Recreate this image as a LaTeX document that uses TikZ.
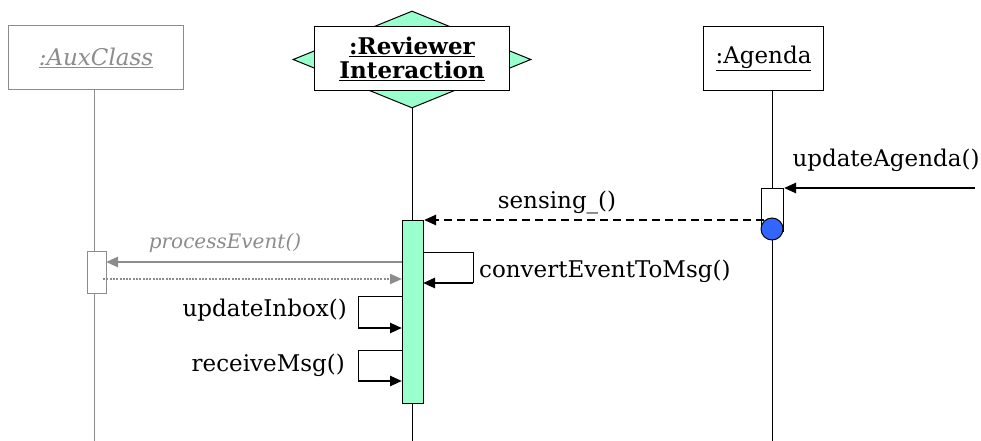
\documentclass[tikz,border=0pt]{standalone}
\usepackage{fontspec}
\setmainfont{DejaVu Serif}
\usetikzlibrary{arrows.meta,shapes.geometric}
\definecolor{mint}{HTML}{99FFCC}
\definecolor{ballblue}{HTML}{3366FF}
\definecolor{auxgray}{HTML}{8C8C8C}
\tikzset{
  lbl/.style={font=\fontsize{23}{26}\selectfont, inner sep=0pt},
  objbox/.style={draw, fill=white, line width=1pt, minimum width=#1, minimum height=64pt, inner sep=0pt},
  lifeline/.style={line width=1pt},
  act/.style={draw, line width=1pt, inner sep=0pt, anchor=north west},
  tip/.style={-{Triangle[length=12pt,width=10pt]}},
  msg/.style={line width=2.5pt, tip},
  selfin/.style={line width=1pt},
}
\begin{document}
\begin{tikzpicture}[x=1pt,y=-1pt]
\useasboundingbox (0,0) rectangle (981,441);
% ---- AuxClass
\node[objbox=175pt, draw=auxgray, anchor=north west, font=\fontsize{23}{26}\selectfont\itshape, text=auxgray] (aux) at (8,25) {\underline{:AuxClass}};
\coordinate (auxend) at (94,441);
\draw[lifeline, draw=auxgray] (auxend |- aux.south) -- (auxend);
\node[act, draw=auxgray, fill=white, minimum width=19pt, minimum height=42pt] (auxact) at (87,251) {};
% ---- Reviewer Interaction
\node[diamond, aspect=2.45, fill=mint, draw, line width=1pt, minimum width=238pt, minimum height=97pt, inner sep=0pt] (dia) at (412,59.5) {};
\node[objbox=195pt, anchor=north west, font=\fontsize{23}{26}\selectfont\bfseries, align=center] (rev) at (314,26) {\underline{:Reviewer}\\[-2pt]\underline{Interaction}};
\coordinate (revend) at (412,441);
\draw[lifeline] (dia.south) -- (revend);
\node[act, fill=mint, minimum width=21pt, minimum height=183pt] (revact) at (402,220) {};
% ---- Agenda
\node[objbox=120pt, anchor=north west, font=\fontsize{23}{26}\selectfont] (ag) at (703,26) {\underline{:Agenda}};
\coordinate (agend) at (772,441);
\draw[lifeline] (agend |- ag.south) -- (agend);
\node[act, fill=white, minimum width=22pt, minimum height=43pt] (agact) at (761,188) {};
\node[circle, draw, fill=ballblue, line width=1pt, minimum size=22pt, inner sep=0pt] (ball) at (772,229) {};
% ---- updateAgenda()
\coordinate (ext) at (975,188);
\draw[msg] (ext) -- (agact.north east);
\node[lbl] (lua) at (886,160) {updateAgenda()};
% ---- sensing_()
\draw[line width=2.5pt, dash pattern=on 8pt off 5pt, tip] (ball.north west |- 0,220) -- (revact.north east);
\node[lbl] (lsen) at (557,202) {sensing\_()};
% ---- convertEventToMsg()
\coordinate (c1) at (423,252);
\coordinate (c2) at (473,252);
\coordinate (c3) at (473,283);
\coordinate (c4) at (423,283);
\draw[selfin] (c1) -- (c2) -- (c3);
\draw[msg] (c3) -- (c4);
\node[lbl, anchor=west] (lconv) at (479,271) {convertEventToMsg()};
% ---- processEvent()
\coordinate (p1) at (402,262);
\coordinate (p2) at (106,262);
\draw[msg, draw=auxgray, color=auxgray] (p1) -- (p2);
\node[lbl, font=\fontsize{20}{23}\selectfont\itshape, text=auxgray] (lpe) at (225,243) {processEvent()};
\coordinate (r1) at (103,279);
\coordinate (r2) at (402,279);
\draw[line width=2pt, draw=auxgray, dash pattern=on 2pt off 1.3pt, tip, color=auxgray] (r1) -- (r2);
% ---- updateInbox()
\coordinate (u1) at (402,296);
\coordinate (u2) at (358,296);
\coordinate (u3) at (358,328);
\coordinate (u4) at (402,328);
\draw[selfin] (u1) -- (u2) -- (u3);
\draw[msg] (u3) -- (u4);
\node[lbl, anchor=east] (lui) at (347,310) {updateInbox()};
% ---- receiveMsg()
\coordinate (m1) at (402,350);
\coordinate (m2) at (358,350);
\coordinate (m3) at (358,381);
\coordinate (m4) at (402,381);
\draw[selfin] (m1) -- (m2) -- (m3);
\draw[msg] (m3) -- (m4);
\node[lbl, anchor=east] (lrm) at (345,365) {receiveMsg()};
\end{tikzpicture}
\end{document}
